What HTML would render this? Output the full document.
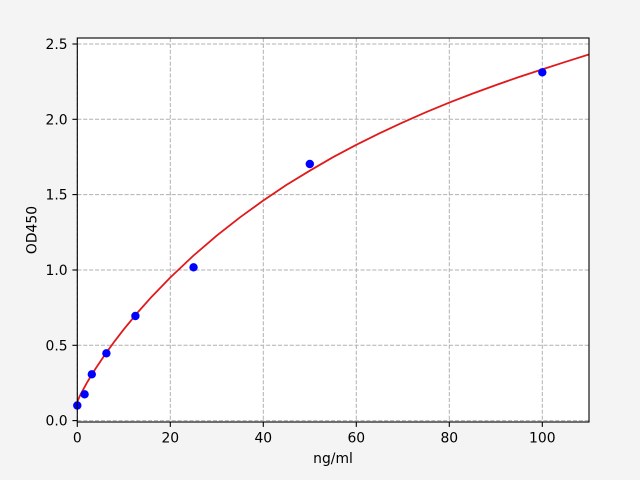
<!DOCTYPE html>
<html>
<head>
<meta charset="utf-8">
<style>
  html, body { margin: 0; padding: 0; background: #f4f4f4; }
  svg { display: block; }
  text { font-family: "DejaVu Sans", "Liberation Sans", sans-serif; font-size: 13.9px; fill: #000; }
</style>
</head>
<body>
<svg width="640" height="480" viewBox="0 0 640 480" xmlns="http://www.w3.org/2000/svg">
  <rect x="0" y="0" width="640" height="480" fill="#f4f4f4"/>
  <defs>
    <clipPath id="ax">
      <rect x="77.3" y="38" width="511.7" height="384"/>
    </clipPath>
  </defs>
  <!-- plot area -->
  <rect x="77.3" y="38" width="511.7" height="384" fill="#ffffff"/>

  <!-- grid -->
  <g stroke="#b0b0b0" stroke-width="1" stroke-dasharray="4.1,1.8" fill="none">
    <line x1="77.3" y1="38" x2="77.3" y2="422"/>
    <line x1="170.3" y1="38" x2="170.3" y2="422"/>
    <line x1="263.3" y1="38" x2="263.3" y2="422"/>
    <line x1="356.3" y1="38" x2="356.3" y2="422"/>
    <line x1="449.3" y1="38" x2="449.3" y2="422"/>
    <line x1="542.3" y1="38" x2="542.3" y2="422"/>
    <line x1="77.3" y1="420.6" x2="589" y2="420.6"/>
    <line x1="77.3" y1="345.3" x2="589" y2="345.3"/>
    <line x1="77.3" y1="270.0" x2="589" y2="270.0"/>
    <line x1="77.3" y1="194.6" x2="589" y2="194.6"/>
    <line x1="77.3" y1="119.3" x2="589" y2="119.3"/>
    <line x1="77.3" y1="44.0" x2="589" y2="44.0"/>
  </g>

  <!-- fitted curve -->
  <polyline clip-path="url(#ax)" fill="none" stroke="#e0191b" stroke-width="1.8" stroke-linejoin="round"
    points="77.3,401.8 79.6,396.4 82.0,391.8 86.6,383.3 91.25,375.5 95.9,368.1 105.2,354.2 114.5,341.4 123.8,329.3 137.75,312.4 151.7,296.7 170.3,277.5 193.55,255.5 216.8,235.6 240.05,217.3 263.3,200.5 286.5,184.9 309.8,170.7 333.0,157.2 356.3,144.8 379.5,133.3 402.8,122.4 426.0,112.2 449.3,102.6 472.5,93.6 495.8,85.1 519.0,77.0 542.3,69.4 565.6,61.8 589.5,54.3"/>

  <!-- data points -->
  <g fill="#0000ff">
    <circle cx="77.3" cy="405.5" r="4.2"/>
    <circle cx="84.6" cy="394.3" r="4.2"/>
    <circle cx="91.8" cy="374.3" r="4.2"/>
    <circle cx="106.4" cy="353.3" r="4.2"/>
    <circle cx="135.4" cy="316.0" r="4.2"/>
    <circle cx="193.55" cy="267.3" r="4.2"/>
    <circle cx="309.8" cy="164.0" r="4.2"/>
    <circle cx="542.3" cy="72.3" r="4.2"/>
  </g>

  <!-- spines -->
  <rect x="77.3" y="38" width="511.7" height="384" fill="none" stroke="#000" stroke-width="1.1"/>

  <!-- x ticks -->
  <g stroke="#000" stroke-width="1.1">
    <line x1="77.3" y1="422" x2="77.3" y2="426.9"/>
    <line x1="170.3" y1="422" x2="170.3" y2="426.9"/>
    <line x1="263.3" y1="422" x2="263.3" y2="426.9"/>
    <line x1="356.3" y1="422" x2="356.3" y2="426.9"/>
    <line x1="449.3" y1="422" x2="449.3" y2="426.9"/>
    <line x1="542.3" y1="422" x2="542.3" y2="426.9"/>
    <line x1="72.4" y1="420.6" x2="77.3" y2="420.6"/>
    <line x1="72.4" y1="345.3" x2="77.3" y2="345.3"/>
    <line x1="72.4" y1="270.0" x2="77.3" y2="270.0"/>
    <line x1="72.4" y1="194.6" x2="77.3" y2="194.6"/>
    <line x1="72.4" y1="119.3" x2="77.3" y2="119.3"/>
    <line x1="72.4" y1="44.0" x2="77.3" y2="44.0"/>
  </g>

  <!-- x tick labels -->
  <g text-anchor="middle">
    <text x="77.3" y="442.7">0</text>
    <text x="170.3" y="442.7">20</text>
    <text x="263.3" y="442.7">40</text>
    <text x="356.3" y="442.7">60</text>
    <text x="449.3" y="442.7">80</text>
    <text x="542.3" y="442.7">100</text>
  </g>

  <!-- y tick labels -->
  <g text-anchor="end">
    <text x="67.6" y="425.6">0.0</text>
    <text x="67.6" y="350.3">0.5</text>
    <text x="67.6" y="275.0">1.0</text>
    <text x="67.6" y="199.6">1.5</text>
    <text x="67.6" y="124.3">2.0</text>
    <text x="67.6" y="49.0">2.5</text>
  </g>

  <!-- axis labels -->
  <text x="333" y="463" text-anchor="middle">ng/ml</text>
  <text x="0" y="0" text-anchor="middle" transform="translate(36.5,230) rotate(-90)">OD450</text>
</svg>
</body>
</html>
